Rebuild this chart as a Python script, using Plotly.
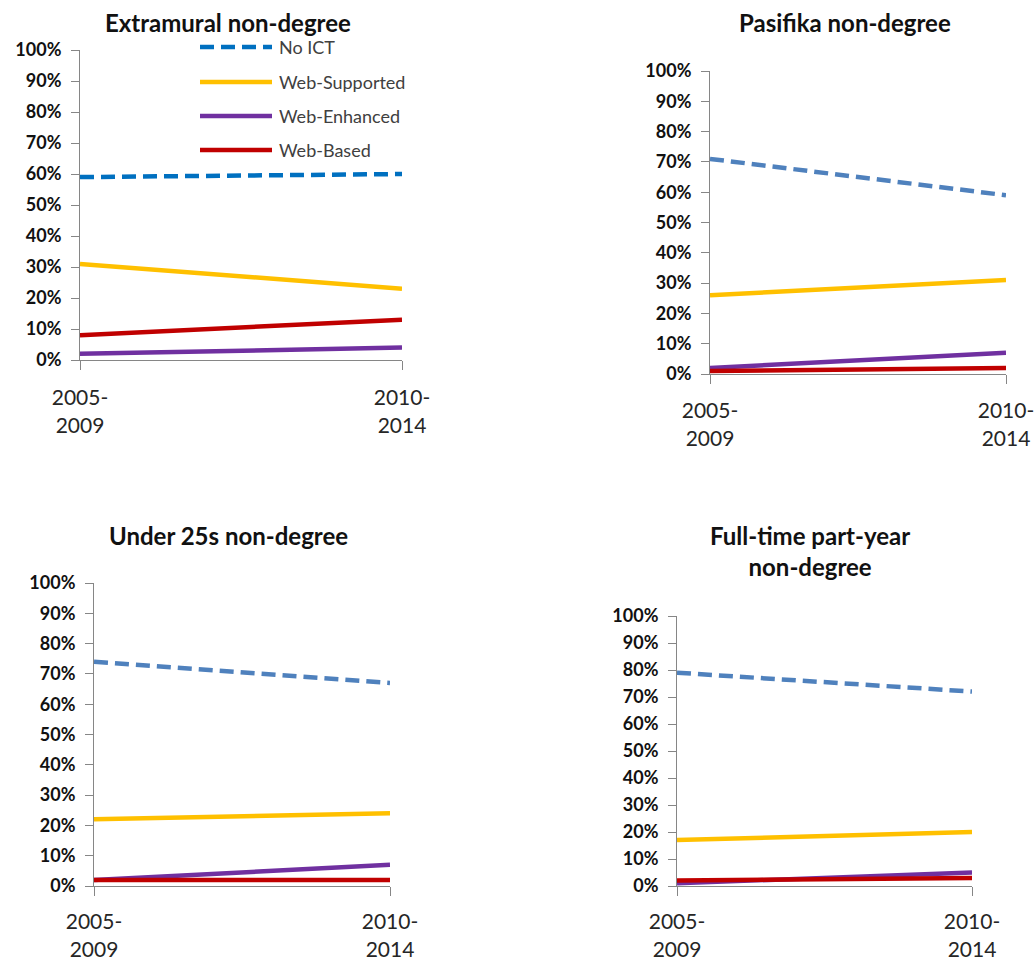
import plotly.graph_objects as go

# Category labels (two-line period names)
periods = ["2005-<br>2009", "2010-<br>2014"]

series_names = ["No ICT", "Web-Supported", "Web-Enhanced", "Web-Based"]

# Share of students (%) per ICT category, for each group
extramural_no_ict = [59, 60]
extramural_supported = [31, 23]
extramural_enhanced = [2, 4]
extramural_based = [8, 13]

pasifika_no_ict = [71, 59]
pasifika_supported = [26, 31]
pasifika_enhanced = [2, 7]
pasifika_based = [1, 2]

under25_no_ict = [74, 67]
under25_supported = [22, 24]
under25_enhanced = [2, 7]
under25_based = [2, 2]

fulltime_no_ict = [79, 72]
fulltime_supported = [17, 20]
fulltime_enhanced = [1, 5]
fulltime_based = [2, 3]

panel_titles = [
    "Extramural non-degree",
    "Pasifika non-degree",
    "Under 25s non-degree",
    "Full-time part-year<br>non-degree",
]

y_tick_values = [0, 10, 20, 30, 40, 50, 60, 70, 80, 90, 100]
y_tick_labels = ["0%", "10%", "20%", "30%", "40%", "50%", "60%", "70%", "80%", "90%", "100%"]

W, H = 1036, 960

panels = [
    dict(data=[extramural_no_ict, extramural_supported, extramural_enhanced, extramural_based],
         x=(80, 402), y=(50, 360), title_xy=(228, 23), no_ict_color="#0070C0", standoff=10),
    dict(data=[pasifika_no_ict, pasifika_supported, pasifika_enhanced, pasifika_based],
         x=(710, 1006), y=(71, 374), title_xy=(845, 23), no_ict_color="#4F81BD", standoff=9),
    dict(data=[under25_no_ict, under25_supported, under25_enhanced, under25_based],
         x=(94, 390), y=(583, 886), title_xy=(228, 535), no_ict_color="#4F81BD", standoff=8),
    dict(data=[fulltime_no_ict, fulltime_supported, fulltime_enhanced, fulltime_based],
         x=(677, 972), y=(616, 886), title_xy=(810, 551), no_ict_color="#4F81BD", standoff=8),
]

other_colors = ["#FFC000", "#7030A0", "#C00000"]
FONT = "Lato, 'Open Sans', sans-serif"
DASH = "14px,7px"

def px_x(v):
    return v / W

def px_y(v):
    return 1 - v / H

fig = go.Figure()
annotations = []
shapes = []

for i, p in enumerate(panels):
    n = i + 1
    xa = "x" if n == 1 else f"x{n}"
    ya = "y" if n == 1 else f"y{n}"
    colors = [p["no_ict_color"]] + other_colors
    for name, vals, col in zip(series_names, p["data"], colors):
        fig.add_trace(go.Scatter(
            x=periods, y=vals, mode="lines", name=name,
            line=dict(color=col, width=4.5, dash=DASH if name == "No ICT" else "solid"),
            xaxis=xa, yaxis=ya, showlegend=False, hoverinfo="skip",
        ))
    xkey = "xaxis" if n == 1 else f"xaxis{n}"
    ykey = "yaxis" if n == 1 else f"yaxis{n}"
    fig.update_layout(**{
        xkey: dict(
            domain=[px_x(p["x"][0]), px_x(p["x"][1])],
            anchor=ya, type="category", categoryorder="array", categoryarray=periods,
            range=[0, 1], showgrid=False, zeroline=False, automargin=False,
            showline=True, linecolor="#868686", linewidth=1,
            ticks="outside", ticklen=9, tickcolor="#868686", tickwidth=1,
            tickfont=dict(family=FONT, size=21, color="#262626"),
            ticklabelstandoff=p["standoff"],
        ),
        ykey: dict(
            domain=[px_y(p["y"][1]), px_y(p["y"][0])],
            anchor=xa, range=[0, 100], tickmode="array",
            tickvals=y_tick_values, ticktext=y_tick_labels,
            showgrid=False, zeroline=False, automargin=False,
            showline=True, linecolor="#868686", linewidth=1,
            ticks="outside", ticklen=8, tickcolor="#868686", tickwidth=1,
            tickfont=dict(family=FONT, size=18, color="#111111", weight="bold"),
            ticklabelstandoff=6,
        ),
    })
    annotations.append(dict(
        text=f"<b>{panel_titles[i]}</b>", xref="paper", yref="paper",
        x=px_x(p["title_xy"][0]), y=px_y(p["title_xy"][1]),
        xanchor="center", yanchor="middle", showarrow=False,
        font=dict(family=FONT, size=24, color="#111111"),
    ))

# Legend drawn inside the first panel
legend_rows = [47, 82, 116, 150]
legend_colors = ["#0070C0"] + other_colors
for name, col, yy in zip(series_names, legend_colors, legend_rows):
    shapes.append(dict(
        type="line", xref="paper", yref="paper",
        x0=px_x(200), x1=px_x(272), y0=px_y(yy), y1=px_y(yy),
        line=dict(color=col, width=4.5, dash=DASH if name == "No ICT" else "solid"),
    ))
    annotations.append(dict(
        text=name, xref="paper", yref="paper", x=px_x(277), y=px_y(yy),
        xanchor="left", yanchor="middle", showarrow=False,
        font=dict(family=FONT, size=18, color="#404040"),
    ))

fig.update_layout(
    width=W, height=H, margin=dict(l=0, r=0, t=0, b=0),
    paper_bgcolor="white", plot_bgcolor="white",
    annotations=annotations, shapes=shapes, showlegend=False,
)

fig.write_html("out.html")
